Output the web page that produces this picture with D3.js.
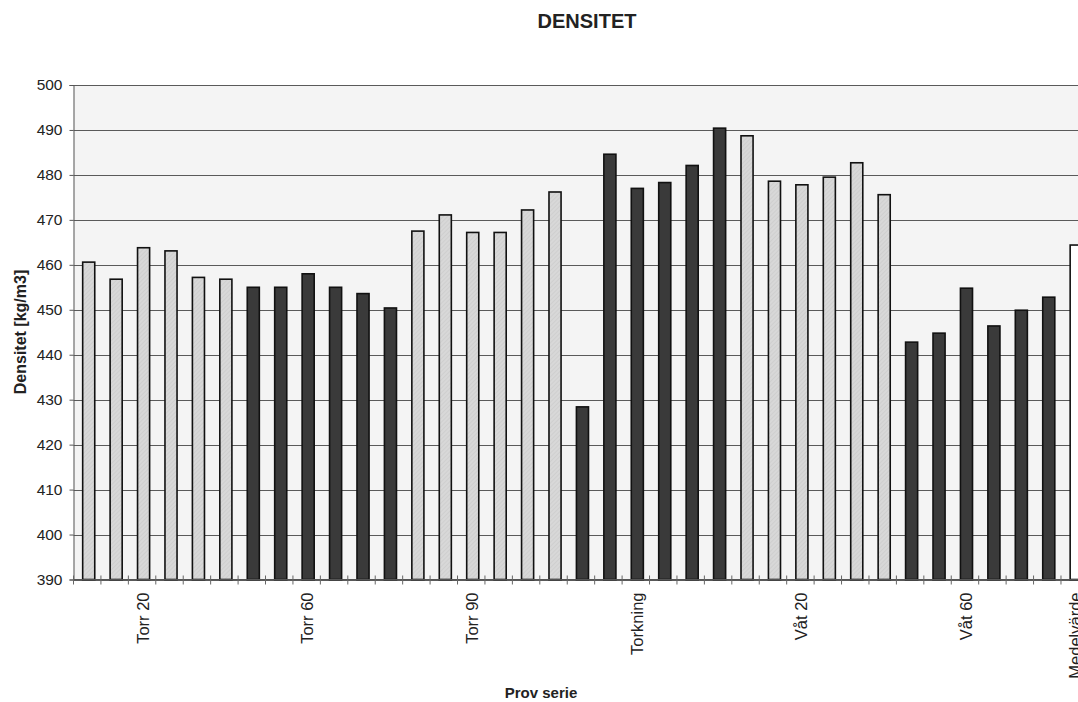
<!DOCTYPE html>
<html>
<head>
<meta charset="utf-8">
<script src="https://cdn.jsdelivr.net/npm/d3@7"></script>
<style>
  html, body { margin: 0; padding: 0; background: #ffffff; overflow: hidden; }
  svg { display: block; font-family: "Liberation Sans", Arial, sans-serif; }
</style>
</head>
<body>
<svg id="chart" width="1078" height="702"></svg>
<script>
// Density per specimen, kg/m3, grouped by test series
const seriesNames = ["Torr 20", "Torr 60", "Torr 90", "Torkning", "Våt 20", "Våt 60"];
const torr20   = [460.6, 456.8, 463.8, 463.1, 457.2, 456.8];
const torr60   = [455.0, 455.0, 458.0, 455.0, 453.6, 450.4];
const torr90   = [467.5, 471.1, 467.2, 467.2, 472.2, 476.2];
const torkning = [428.4, 484.6, 477.0, 478.3, 482.1, 490.4];
const vat20    = [488.7, 478.6, 477.8, 479.5, 482.7, 475.6];
const vat60    = [442.8, 444.8, 454.8, 446.4, 449.9, 452.8];
const meanName = "Medelvärde";
const meanValue = [464.4];
const yTicks = [390, 400, 410, 420, 430, 440, 450, 460, 470, 480, 490, 500];

const seriesValues = [torr20, torr60, torr90, torkning, vat20, vat60];
const seriesFill = ["url(#lightFill)", "#3a3a3a", "url(#lightFill)", "#3a3a3a", "url(#lightFill)", "#3a3a3a"];

// Flatten into one bar per category slot; the series name sits under its third bar
const bars = [];
seriesValues.forEach((vals, s) => {
  vals.forEach((v, i) => {
    bars.push({ key: s + "-" + i, value: v, label: i === 2 ? seriesNames[s] : "", fill: seriesFill[s] });
  });
});
meanValue.forEach((v, i) => bars.push({ key: "mean-" + i, value: v, label: meanName, fill: "#ffffff" }));

const svg = d3.select("#chart");
const plotLeft = 73.5, plotTop = 85, plotBottom = 579.5;
const step = 27.43;
const plotRight = plotLeft + bars.length * step;

// light hatched fill used by the pale bars
const defs = svg.append("defs");
const pat = defs.append("pattern").attr("id", "lightFill")
  .attr("patternUnits", "userSpaceOnUse").attr("width", 3).attr("height", 3)
  .attr("patternTransform", "rotate(45)");
pat.append("rect").attr("width", 3).attr("height", 3).attr("fill", "#d8d8d8");
pat.append("line").attr("x1", 0).attr("y1", 0).attr("x2", 0).attr("y2", 3)
  .attr("stroke", "#c6c6c6").attr("stroke-width", 1);

const x = d3.scaleBand()
  .domain(bars.map(d => d.key))
  .range([plotLeft, plotRight])
  .paddingInner(0.56)
  .paddingOuter(0.28);

const y = d3.scaleLinear().domain([390, 500]).range([plotBottom, plotTop]);

// plot area background
svg.append("rect")
  .attr("x", plotLeft).attr("y", plotTop)
  .attr("width", plotRight - plotLeft).attr("height", plotBottom - plotTop)
  .attr("fill", "#f4f4f4");

// horizontal gridlines
svg.append("g").selectAll("line").data(yTicks).join("line")
  .attr("x1", plotLeft).attr("x2", plotRight)
  .attr("y1", d => Math.round(y(d)) + 0.5).attr("y2", d => Math.round(y(d)) + 0.5)
  .attr("stroke", "#5a5a5a").attr("stroke-width", 1);

// bars
svg.append("g").attr("transform", "translate(1.5,0)")
  .selectAll("rect").data(bars).join("rect")
  .attr("x", d => x(d.key))
  .attr("y", d => y(d.value))
  .attr("width", x.bandwidth())
  .attr("height", d => y(390) - y(d.value))
  .attr("fill", d => d.fill)
  .attr("stroke", "#111")
  .attr("stroke-width", 1.6);

// y axis
const yAxis = d3.axisLeft(y).tickValues(yTicks).tickSize(4).tickPadding(7).tickFormat(d3.format("d"));
const gy = svg.append("g").attr("transform", `translate(${plotLeft},0)`).call(yAxis);
gy.select(".domain").attr("stroke", "#555");
gy.selectAll(".tick line").attr("stroke", "#555");
gy.selectAll("text").attr("font-size", 15.5).attr("fill", "#222");

// x axis: labels from the band scale, tick marks on category boundaries
const xAxis = d3.axisBottom(x).tickSize(0).tickPadding(0)
  .tickFormat(k => bars.find(b => b.key === k).label);
const gx = svg.append("g").attr("transform", `translate(1,${plotBottom})`).call(xAxis);
gx.select(".domain").remove();
gx.selectAll(".tick text")
  .attr("font-size", 16.5).attr("fill", "#222")
  .attr("text-anchor", "end")
  .attr("dy", "0.35em")
  .attr("transform", "translate(0,13) rotate(-90)")
  .attr("x", 0).attr("y", 0);

svg.append("line")
  .attr("x1", plotLeft).attr("x2", plotRight)
  .attr("y1", plotBottom).attr("y2", plotBottom)
  .attr("stroke", "#555").attr("stroke-width", 1);

const boundaries = d3.range(bars.length + 1).map(i => plotLeft + i * x.step());
svg.append("g").selectAll("line").data(boundaries).join("line")
  .attr("x1", d => d).attr("x2", d => d)
  .attr("y1", plotBottom - 4).attr("y2", plotBottom + 5)
  .attr("stroke", "#666").attr("stroke-width", 1);

// titles
svg.append("text")
  .attr("x", 587).attr("y", 28)
  .attr("text-anchor", "middle")
  .attr("font-size", 20).attr("font-weight", "bold").attr("fill", "#222")
  .text("DENSITET");

svg.append("text")
  .attr("x", 541).attr("y", 698)
  .attr("text-anchor", "middle")
  .attr("font-size", 15).attr("font-weight", "bold").attr("fill", "#222")
  .text("Prov serie");

svg.append("text")
  .attr("transform", "translate(20,332) rotate(-90)")
  .attr("text-anchor", "middle")
  .attr("dy", "0.35em")
  .attr("font-size", 16).attr("font-weight", "bold").attr("fill", "#222")
  .text("Densitet [kg/m3]");
</script>
</body>
</html>
